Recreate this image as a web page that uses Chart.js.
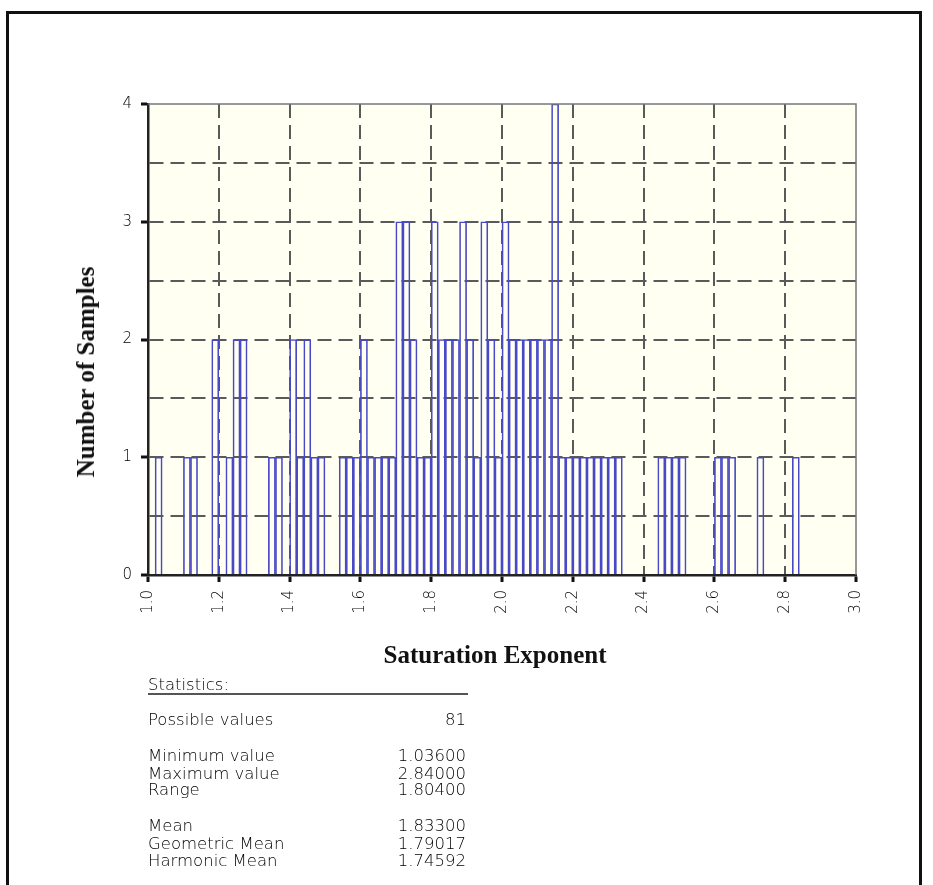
<!DOCTYPE html>
<html>
<head>
<meta charset="utf-8">
<script src="https://cdn.jsdelivr.net/npm/chart.js@4.4.0/dist/chart.umd.min.js"></script>
<style>
  body { margin: 0; background: #fff; width: 933px; height: 885px; overflow: hidden; position: relative;
         font-family: "DejaVu Sans", sans-serif; color: #333; }
  #frame { position: absolute; left: 6px; top: 11px; width: 910px; height: 900px; border: 3px solid #111; }
  #chart { position: absolute; left: 0; top: 0; }
  .title { position: absolute; font-family: "Liberation Serif", serif; font-weight: bold; font-size: 25px;
           color: #111; white-space: nowrap; }
  #ytitle { left: 86px; top: 372px; transform: translate(-50%, -50%) rotate(-90deg); }
  #xtitle { left: 495px; top: 655px; transform: translate(-50%, -50%); }
  .stat { position: absolute; left: 148px; width: 318px; font-size: 16.5px; line-height: 17.5px;
          font-weight: 200; color: #000; }
  .stat span { float: right; }
  #stathead { width: 320px; height: 17px; border-bottom: 2px solid #555; }
</style>
</head>
<body>
<div id="frame"></div>
<canvas id="chart" width="933" height="885"></canvas>
<div class="title" id="ytitle">Number of Samples</div>
<div class="title" id="xtitle">Saturation Exponent</div>

<div class="stat" id="stathead" style="top:676px">Statistics:</div>
<div class="stat" style="top:711px">Possible values<span>81</span></div>
<div class="stat" style="top:747px">Minimum value<span>1.03600</span></div>
<div class="stat" style="top:765px">Maximum value<span>2.84000</span></div>
<div class="stat" style="top:781px">Range<span>1.80400</span></div>
<div class="stat" style="top:817px">Mean<span>1.83300</span></div>
<div class="stat" style="top:835px">Geometric Mean<span>1.79017</span></div>
<div class="stat" style="top:852px">Harmonic Mean<span>1.74592</span></div>

<script>
// histogram bins (centre of each 0.02 wide bin) and number of samples in it
const binCenters = [
  1.03, 1.11, 1.13, 1.19, 1.23, 1.25, 1.27, 1.35, 1.37, 1.41, 1.43, 1.45, 1.47, 1.49,
  1.55, 1.57, 1.59, 1.61, 1.63, 1.65, 1.67, 1.69, 1.71, 1.73, 1.75, 1.77, 1.79, 1.81, 1.83, 1.85, 1.87, 1.89,
  1.91, 1.93, 1.95, 1.97, 1.99, 2.01, 2.03, 2.05, 2.07, 2.09, 2.11, 2.13, 2.15,
  2.17, 2.19, 2.21, 2.23, 2.25, 2.27, 2.29, 2.31, 2.33, 2.45, 2.47, 2.49, 2.51, 2.61, 2.63, 2.65, 2.73, 2.83
];
const sampleCounts = [
  1, 1, 1, 2, 1, 2, 2, 1, 1, 2, 1, 2, 1, 1,
  1, 1, 1, 2, 1, 1, 1, 1, 3, 3, 2, 1, 1, 3, 2, 2, 2, 3,
  2, 1, 3, 2, 1, 3, 2, 2, 2, 2, 2, 2, 4,
  1, 1, 1, 1, 1, 1, 1, 1, 1, 1, 1, 1, 1, 1, 1, 1, 1, 1
];
const xMin = 1.0, xMax = 3.0, xStep = 0.2;
const yMin = 0, yMax = 4, yStep = 0.5;

const gridGray = '#5a5a5a';
const none = 'rgba(0,0,0,0)';
const tickFont = { family: 'DejaVu Sans', size: 15, weight: '200' };

// cream plot background + grey top/right frame
const plotFrame = {
  id: 'plotFrame',
  beforeDraw(chart) {
    const { ctx, chartArea: a } = chart;
    ctx.save();
    ctx.fillStyle = '#fffff2';
    ctx.fillRect(a.left, a.top, a.right - a.left, a.bottom - a.top);
    ctx.restore();
  },
  afterDraw(chart) {
    const { ctx, chartArea: a } = chart;
    ctx.save();
    ctx.strokeStyle = '#777';
    ctx.lineWidth = 1.5;
    ctx.beginPath();
    ctx.moveTo(a.left, a.top);
    ctx.lineTo(a.right, a.top);
    ctx.lineTo(a.right, a.bottom);
    ctx.stroke();
    ctx.restore();
  }
};

const isEdge = (v, lo, hi) => Math.abs(v - lo) < 1e-6 || Math.abs(v - hi) < 1e-6;

new Chart(document.getElementById('chart'), {
  type: 'bar',
  data: {
    datasets: [{
      data: binCenters.map((x, i) => ({ x: x, y: sampleCounts[i] })),
      backgroundColor: none,
      borderColor: '#4848c8',
      borderWidth: 1,
      barPercentage: 1,
      categoryPercentage: 1
    }]
  },
  options: {
    responsive: false,
    animation: false,
    layout: { padding: { left: 108, right: 77, top: 104, bottom: 250 } },
    plugins: { legend: { display: false }, tooltip: { enabled: false } },
    scales: {
      x: {
        type: 'linear', min: xMin, max: xMax, offset: false,
        afterFit: s => { s.height = 60; },
        grid: {
          offset: false,
          color: c => (c.tick && isEdge(c.tick.value, xMin, xMax)) ? none : gridGray,
          lineWidth: 2, tickColor: '#111', tickWidth: 3, tickLength: 7
        },
        border: { color: '#222', width: 2.5, dash: [14, 7] },
        ticks: {
          stepSize: xStep, autoSkip: false, minRotation: 90, maxRotation: 90, padding: 8,
          color: '#000', font: tickFont,
          callback: v => v.toFixed(1)
        }
      },
      y: {
        min: yMin, max: yMax,
        afterFit: s => { s.width = 40; },
        grid: {
          color: c => (c.tick && isEdge(c.tick.value, yMin, yMax)) ? none : gridGray,
          lineWidth: 2,
          tickColor: c => (c.tick && Number.isInteger(c.tick.value)) ? '#111' : none,
          tickWidth: 3, tickLength: 7
        },
        border: { color: '#222', width: 2.5, dash: [14, 7] },
        ticks: {
          stepSize: yStep, autoSkip: false, padding: 9, color: '#000', font: tickFont,
          callback: v => Number.isInteger(v) ? v : ''
        }
      }
    }
  },
  plugins: [plotFrame]
});
</script>
</body>
</html>
